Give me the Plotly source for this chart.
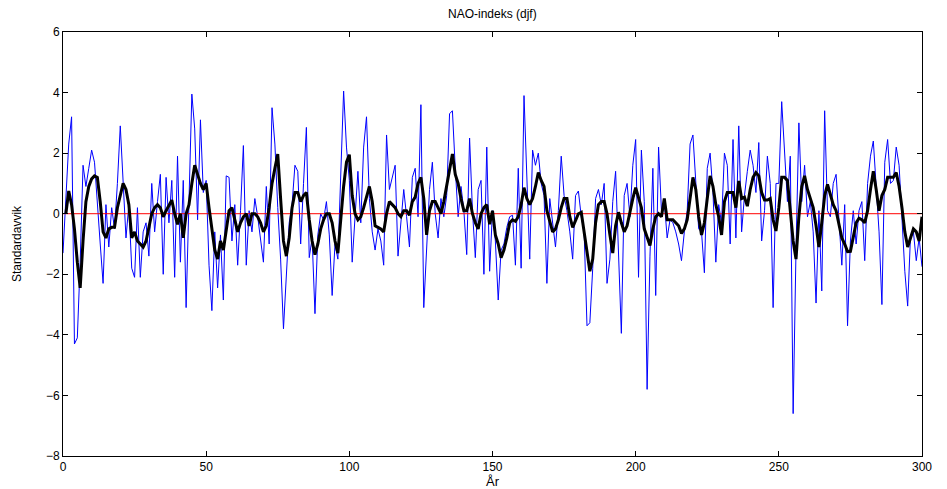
import plotly.graph_objects as go

years = list(range(0, 301))
nao_raw = [
    -1.3, 0.3, 2.3, 3.2, -4.3, -4.1, -1.6, 1.6, 0.9, 1.5,
    2.1, 1.7, 0.2, -1.0, -2.3, 0.3, -1.1, 0.2, -0.5, 1.0,
    2.9, 1.2, -0.8, 0.3, -1.8, -2.1, 0.2, -2.1, -0.6, -0.3,
    -1.4, 1.0, -0.6, 0.4, 1.3, -2.0, 1.2, -0.3, 1.1, -2.1,
    1.9, -1.6, 1.1, -3.1, 0.2, 3.95, 2.8, -0.2, 3.1, 0.7,
    1.1, -1.7, -3.2, -0.6, -2.45, -0.7, -2.85, 1.25, 1.2, -0.9,
    0.3, -1.7, 0.1, 2.25, -1.7, 0.1, -0.6, 0.5, -0.1, -0.8,
    -1.6, 0.9, -1.0, 3.5, 2.3, 0.2, -1.5, -3.8, -2.2, -0.3,
    0.3, 1.6, 1.4, -1.0, 1.0, 2.85, -1.45, -0.8, -3.3, -0.7,
    0.0, -0.2, 0.4, -0.7, -2.7, -1.0, -1.5, 1.1, 4.05, 2.2,
    1.1, -1.6, 0.0, 1.4, -0.3, 2.2, 3.2, 0.5, -0.6, -1.2,
    -0.5, -0.9, -1.7, 2.6, 0.8, 1.2, 1.6, -1.4, -0.2, 0.8,
    -0.1, -1.1, 1.2, 1.5, -0.1, 3.6, -3.1, -0.9, 0.8, 1.7,
    0.0, -0.8, 0.5, -0.1, 0.6, 3.3, 3.4, 1.5, -0.1, 0.9,
    0.1, -1.35, 2.5, 0.1, -1.45, 0.8, 1.1, -2.0, 2.2, -1.9,
    0.1, -0.9, -2.85, -1.2, -1.0, -0.45, -0.1, -0.05, -1.7, 1.5,
    -1.8, 3.9, 1.0, -1.5, 2.1, 1.6, 2.0, 1.0, 0.6, -2.3,
    0.5, -0.3, -1.1, 0.1, 1.9, 0.6, 0.1, -0.6, -1.5, 0.6,
    0.75, -0.1, -0.6, -3.7, -3.6, -1.8, 0.5, 0.8, 0.3, 1.0,
    -2.3, -1.5, 0.4, 1.4, -1.0, -3.95, 0.6, 1.0, -0.1, 1.6,
    2.45, -2.1, 2.1, 0.4, -5.8, -1.4, 1.5, -2.7, 2.2, 0.1,
    0.4, -0.8, -0.2, -0.3, -0.6, -1.0, -1.55, -0.6, 0.1, 2.3,
    2.6, 0.9, -0.5, -0.6, -1.95, 1.5, 2.0, 0.7, -1.6, 0.3,
    -0.3, 2.0, 1.6, -1.0, 2.45, -0.8, 2.9, -0.6, 0.6, 1.4,
    2.1, 1.6, 0.7, 2.35, -0.9, 0.1, 1.9, 1.0, -3.1, 1.0,
    1.0, 3.7, 2.0, 0.4, 1.9, -6.6, -1.2, 3.0, 0.4, 1.6,
    -0.1, 0.4, -0.6, -2.95, 0.1, -2.55, 3.4, 0.1, -0.1, 1.0,
    1.3, -0.3, -1.7, 0.3, -3.7, -0.9, 0.1, -1.0, 0.1, 0.4,
    -1.55, 1.0, 1.9, 2.4, 1.0, -0.6, -3.0, 1.7, 2.45, 1.0,
    1.1, 2.2, 1.6, 0.0, -1.9, -3.05, -0.7, -0.6, -1.55, -0.8,
    -1.75,
]

smooth_years = list(range(1, 301))
nao_smooth = [
    0.0, 0.75, 0.3, -0.5, -1.6, -2.45, -0.9, 0.4, 0.9, 1.15,
    1.25, 1.2, 0.4, -0.6, -0.8, -0.5, -0.45, -0.45, 0.2, 0.6,
    1.0, 0.8, 0.3, -0.8, -0.6, -0.9, -1.0, -1.1, -0.9, -0.4,
    0.0, 0.2, 0.3, 0.2, -0.1, 0.1, 0.3, 0.45, 0.0, -0.35,
    0.0, -0.8, 0.0, 0.3, 1.0, 1.6, 1.3, 1.0, 0.8, 1.0,
    0.2, -0.6, -1.2, -1.5, -0.9, -1.2, -0.5, 0.1, 0.2, -0.2,
    -0.6, -0.3, -0.1, 0.0, -0.4, 0.0, 0.0, -0.1, -0.3, -0.6,
    -0.4, 0.2, 1.0, 1.5, 1.97, 0.5, -0.9, -1.4, -0.8, 0.2,
    0.7, 0.7, 0.4, 0.6, 0.7, -0.2, -0.9, -1.35, -1.0, -0.5,
    -0.2, 0.0, 0.0, -0.3, -0.9, -1.3, -0.2, 0.9, 1.7, 1.95,
    0.6, 0.0, -0.2, -0.1, 0.2, 0.6, 0.9, 0.4, -0.4, -0.45,
    -0.5, -0.6, 0.0, 0.4, 0.3, 0.2, 0.0, -0.1, 0.1, 0.1,
    -0.05, 0.4, 0.55, 1.0, 1.2, 0.5, -0.7, 0.1, 0.4, 0.4,
    0.2, 0.0, 0.4, 0.9, 1.4, 1.97, 1.3, 1.0, 0.5, 0.1,
    0.1, 0.5, 0.0, -0.3, -0.5, 0.0, 0.2, 0.3, -0.35, 0.1,
    -0.7, -1.0, -1.45, -1.2, -0.8, -0.3, -0.2, -0.25, -0.1, 0.3,
    0.86, 0.5, 0.3, 0.5, 0.9, 1.36, 1.1, 0.9, 0.1, -0.3,
    -0.6, -0.5, -0.2, 0.2, 0.5, 0.5, -0.1, -0.45, -0.2, 0.0,
    0.05, -0.6, -1.3, -1.9, -1.5, -0.3, 0.3, 0.4, 0.4, 0.0,
    -0.7, -1.3, -0.4, 0.05, -0.3, -0.6, -0.4, 0.1, 0.5, 0.86,
    0.5, 0.2, -0.5, -0.8, -1.05, -0.5, -0.1, 0.0, -0.1, 0.5,
    -0.2, -0.2, -0.2, -0.3, -0.4, -0.65, -0.5, -0.2, 0.6, 1.2,
    0.8, -0.1, -0.7, -0.3, 0.5, 1.25, 0.9, 0.3, -0.1, -0.7,
    0.4, 0.7, 0.7, 0.7, 0.2, 1.08, 0.5, 0.55, 0.25, 0.8,
    1.2, 1.36, 1.25, 0.7, 0.45, 0.45, 0.5, -0.2, -0.57, 0.2,
    1.2, 1.2, 1.1, 0.1, -0.9, -1.5, -0.1, 0.9, 1.25, 0.8,
    0.5, 0.2, -0.4, -1.1, -0.3, 0.6, 0.97, 0.6, 0.3, 0.1,
    -0.3, -0.8, -1.0, -1.25, -1.24, -0.8, -0.3, -0.15, -0.2, -0.3,
    0.1, 0.8, 1.4, 0.8, 0.1, 0.6, 0.8, 1.2, 1.2, 1.2,
    1.36, 0.9, 0.2, -0.6, -1.1, -0.8, -0.5, -0.6, -0.9, -0.1,
]

zero_x = [years[0], years[-1]]
zero_y = [0, 0]

x_ticks = [0, 50, 100, 150, 200, 250, 300]
y_ticks = [-8, -6, -4, -2, 0, 2, 4, 6]

title_text = "NAO-indeks (djf)"
x_label = "År"
y_label = "Standardavvik"

FONT = "Liberation Sans, Arial, Helvetica, sans-serif"

fig = go.Figure()
fig.add_trace(go.Scatter(x=years, y=nao_raw, mode="lines",
                         line=dict(color="#0000ff", width=1), showlegend=False))
fig.add_trace(go.Scatter(x=zero_x, y=zero_y, mode="lines",
                         line=dict(color="#ff0000", width=1), showlegend=False))
fig.add_trace(go.Scatter(x=smooth_years, y=nao_smooth, mode="lines",
                         line=dict(color="#000000", width=3), showlegend=False))

axis_common = dict(showline=True, linecolor="#000000", linewidth=1, mirror="ticks",
                   ticks="inside", ticklen=5, tickcolor="#000000", tickwidth=1,
                   showgrid=False, zeroline=False,
                   tickfont=dict(family=FONT, size=12, color="#000000"))

fig.update_layout(
    width=947, height=489,
    margin=dict(l=63, r=25, t=32, b=33),
    paper_bgcolor="white", plot_bgcolor="white",
    font=dict(family=FONT, size=12, color="#000000"),
    xaxis=dict(range=[0, 300], tickvals=x_ticks, **axis_common),
    yaxis=dict(range=[-8, 6], tickvals=y_ticks, **axis_common),
    annotations=[
        dict(text=title_text, xref="paper", yref="paper", x=0.5, y=1,
             yanchor="bottom", yshift=9, showarrow=False,
             font=dict(family=FONT, size=12, color="#000000")),
        dict(text=x_label, xref="paper", yref="paper", x=0.5, y=0,
             yanchor="top", yshift=-16, showarrow=False,
             font=dict(family=FONT, size=13, color="#000000")),
        dict(text=y_label, xref="paper", yref="paper", x=0, y=0.5,
             xanchor="right", xshift=-37, textangle=-90, showarrow=False,
             font=dict(family=FONT, size=12, color="#000000")),
    ],
)

fig.write_html("out.html")
